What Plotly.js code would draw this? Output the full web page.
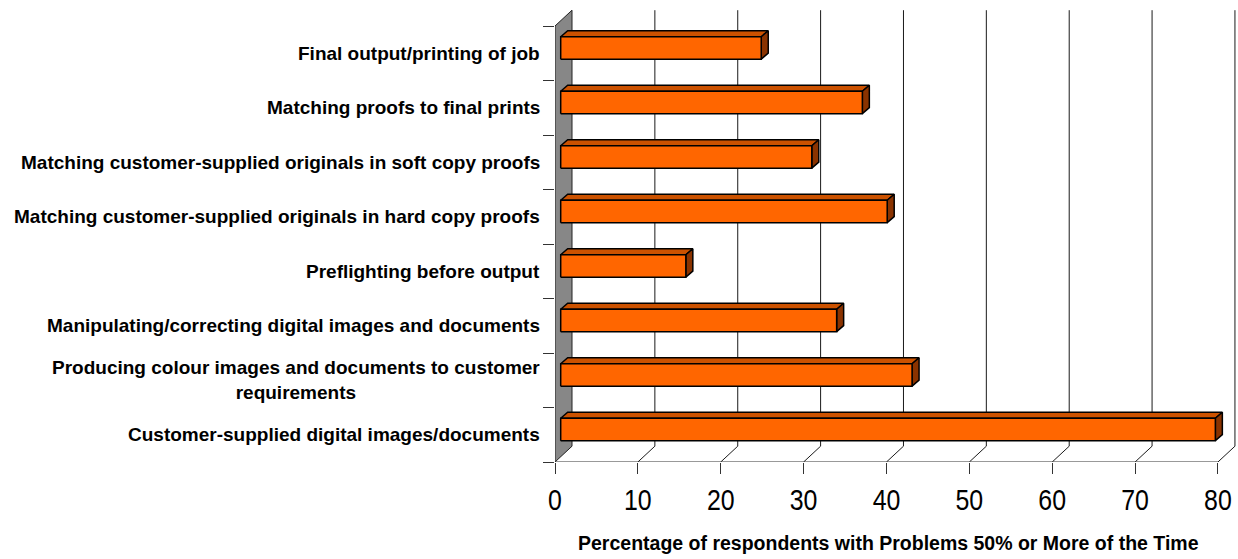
<!DOCTYPE html>
<html>
<head>
<meta charset="utf-8">
<script src="https://cdn.plot.ly/plotly-3.0.1.min.js"></script>
<style>
  html, body { margin: 0; padding: 0; background: #ffffff; }
  #chart { width: 1238px; height: 559px; }
</style>
</head>
<body>
<div id="chart"></div>
<script>
// ---------------- data ----------------
const categories = [
  "Final output/printing of job",
  "Matching proofs to final prints",
  "Matching customer-supplied originals in soft copy proofs",
  "Matching customer-supplied originals in hard copy proofs",
  "Preflighting before output",
  "Manipulating/correcting digital images and documents",
  "Producing colour images and documents to customer<br>requirements",
  "Customer-supplied digital images/documents"
];
const values = [24.2, 36.4, 30.3, 39.4, 15.1, 33.3, 42.4, 79.0];
const xTickVals = [0, 10, 20, 30, 40, 50, 60, 70, 80];
const xTickText = ["0", "10", "20", "30", "40", "50", "60", "70", "80"];
const xAxisTitle = "Percentage of respondents with Problems 50% or More of the Time";

// ---------------- layout geometry (style) ----------------
const W = 1238, H = 559;
const M = { l: 555, r: 1, t: 10, b: 97 };
const plotW = W - M.l - M.r, plotH = H - M.t - M.b;
const xMax = 82.3;
const nCat = categories.length;
const catPx = 54.5;
const yMin = -0.5, yMax = -0.5 + plotH / catPx;
const pxPerX = plotW / xMax, pxPerY = plotH / (yMax - yMin);
const ux = p => p / pxPerX, uy = p => p / pxPerY;

const WX = ux(17), WY = uy(15.8);          // wall / floor depth
const BX1 = ux(5.7), BY1 = uy(5.3);        // bar front-face depth
const BX2 = ux(7), BY2 = uy(6);            // bar thickness (depth)
const BH = uy(11.2);                       // half height of bar front face
const xEnd = xTickVals[xTickVals.length - 1];
const yTop = nCat - 0.5;

const sans = "'Liberation Sans', Arial, sans-serif";

function poly(xs, ys, fill, lineColor, lw) {
  return { type: "scatter", mode: "lines", x: xs, y: ys, fill: "toself",
    fillcolor: fill, line: { color: lineColor, width: lw },
    hoverinfo: "skip", showlegend: false };
}
function lines(xs, ys, color, lw) {
  return { type: "scatter", mode: "lines", x: xs, y: ys,
    line: { color: color, width: lw }, hoverinfo: "skip", showlegend: false,
    connectgaps: false };
}

const traces = [];

// back wall gridlines + floor diagonals
const gx = [], gy = [], fx = [], fy = [];
xTickVals.forEach(v => {
  if (v === 0) return;
  gx.push(v + WX, v + WX, null); gy.push(yMin + WY, yTop + WY, null);
  fx.push(v, v + WX, null); fy.push(yMin, yMin + WY, null);
});
traces.push(lines(gx, gy, "#1a1a1a", 1));
traces.push(lines(fx, fy, "#1a1a1a", 1));
// floor front edge
traces.push(lines([0, xEnd], [yMin, yMin], "#333333", 1));
// left side wall
traces.push(poly([0, WX, WX, 0, 0], [yMin, yMin + WY, yTop + WY, yTop, yMin],
  "#878787", "#222222", 1));

// bars
categories.forEach((c, k) => {
  const i = nCat - 1 - k;
  const v = values[k];
  const x0 = BX1, x1 = v + BX1;
  const y0 = i + BY1 - BH, y1 = i + BY1 + BH;
  traces.push(poly([x0, x1, x1 + BX2, x0 + BX2, x0], [y1, y1, y1 + BY2, y1 + BY2, y1],
    "#CC5200", "#000000", 1.5));
  traces.push(poly([x1, x1 + BX2, x1 + BX2, x1, x1], [y0, y0 + BY2, y1 + BY2, y1, y0],
    "#8A3300", "#000000", 1.5));
  traces.push(poly([x0, x1, x1, x0, x0], [y0, y0, y1, y1, y0],
    "#FF6600", "#000000", 1.5));
});

const annotations = categories.map((c, k) => ({
  text: "<b>" + c + "</b>", xref: "paper", yref: "y",
  x: -13 / plotW, y: nCat - 1 - k, xanchor: "right", yanchor: "middle",
  align: "center", showarrow: false,
  font: { family: sans, size: 19, color: "#000000" }
}));
annotations.push({
  text: "<b>" + xAxisTitle + "</b>", xref: "paper", yref: "paper",
  x: (888 - M.l) / plotW, y: -(543 - (M.t + plotH)) / plotH,
  xanchor: "center", yanchor: "middle", showarrow: false,
  font: { family: sans, size: 19.5, color: "#000000" }
});

const layout = {
  width: W, height: H, margin: M,
  paper_bgcolor: "#ffffff", plot_bgcolor: "#ffffff",
  showlegend: false,
  xaxis: {
    range: [0, xMax], tickvals: xTickVals, ticktext: xTickText,
    ticks: "outside", ticklen: 11, tickwidth: 1, tickcolor: "#333333",
    showgrid: false, zeroline: false, showline: false,
    tickfont: { family: sans, size: 30, color: "#000000" }
  },
  yaxis: {
    range: [yMin, yMax],
    tickvals: Array.from({ length: nCat + 1 }, (_, j) => j - 0.5),
    ticktext: Array.from({ length: nCat + 1 }, () => ""),
    ticks: "outside", ticklen: 11, tickwidth: 1, tickcolor: "#333333",
    showgrid: false, zeroline: false, showline: false
  },
  annotations: annotations
};

// condense tick labels to mimic the narrow typeface of the reference
function condense(el, factor) {
  const len = el.getComputedTextLength();
  if (len > 0) {
    el.setAttribute("textLength", (len * factor).toFixed(2));
    el.setAttribute("lengthAdjust", "spacingAndGlyphs");
  }
}

Plotly.newPlot("chart", traces, layout, { displayModeBar: false, staticPlot: true }).then(gd => {
  gd.querySelectorAll(".xtick text").forEach(t => condense(t, 0.83));
});
</script>
</body>
</html>
